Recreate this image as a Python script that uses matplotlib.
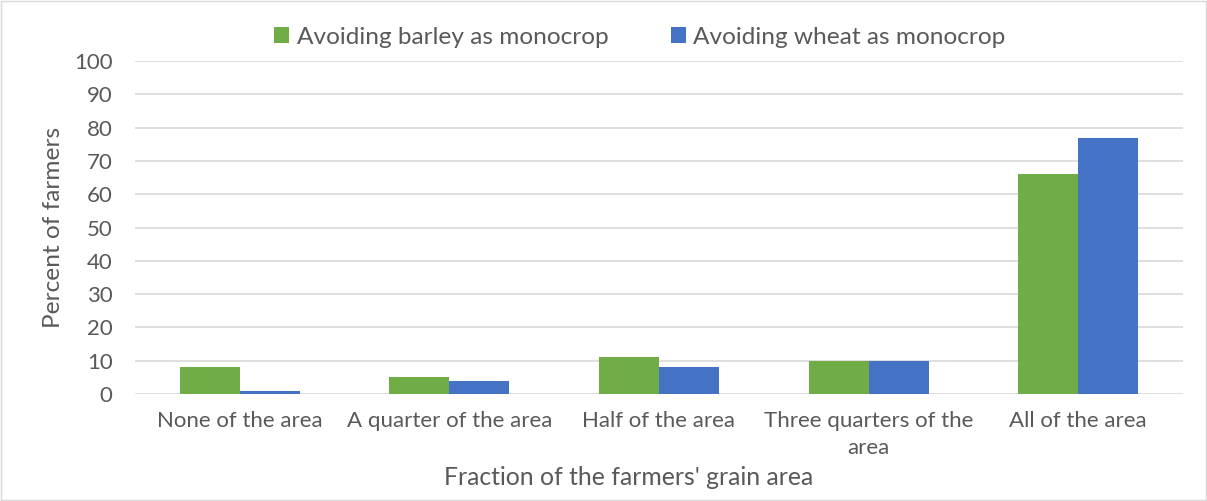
import matplotlib.pyplot as plt
import numpy as np

plt.rcParams['font.family'] = ['Lato', 'DejaVu Sans']

categories = ['None of the area', 'A quarter of the area', 'Half of the area',
              'Three quarters of the\narea', 'All of the area']
barley = [8, 5, 11, 10, 66]
wheat = [1, 4, 8, 10, 77]
yticks = list(range(0, 101, 10))

GREEN = '#70ad47'
BLUE = '#4472c4'
TXT = '#595959'

fig = plt.figure(figsize=(12.07, 5.01), dpi=100)
ax = fig.add_axes([0.1118, 0.2136, 0.8683, 0.6644])

x = np.arange(len(categories))
w = 0.286
ax.bar(x - w / 2, barley, width=w, color=GREEN, label='Avoiding barley as monocrop', zorder=3)
ax.bar(x + w / 2, wheat, width=w, color=BLUE, label='Avoiding wheat as monocrop', zorder=3)

ax.set_xlim(-0.5, len(categories) - 0.5)
ax.set_ylim(0, 100)
ax.set_yticks(yticks)
ax.set_yticklabels([str(v) for v in yticks], fontsize=16, color=TXT)
ax.set_xticks(x)
ax.set_xticklabels(categories, fontsize=16, color=TXT, linespacing=1.45)
ax.tick_params(axis='x', length=0, pad=12)
ax.tick_params(axis='y', length=0, pad=16)
ax.yaxis.grid(True, color='#d9d9d9', linewidth=1.2, zorder=0)
for s in ax.spines.values():
    s.set_visible(False)

ax.set_ylabel('Percent of farmers', fontsize=17.6, color=TXT, labelpad=7)
ax.set_xlabel("Fraction of the farmers' grain area", fontsize=17.8, color=TXT, labelpad=7)
ax.xaxis.set_label_coords(0.471, -0.215)

fig.legend(loc='upper center', bbox_to_anchor=(0.530, 0.99), ncol=2, frameon=False,
           fontsize=17.6, labelcolor=TXT, handlelength=0.62, handleheight=0.62,
           handletextpad=0.3, columnspacing=2.55)

fig.patches.append(plt.Rectangle((0.001, 0.001), 0.998, 0.997, transform=fig.transFigure,
                                 fill=False, edgecolor='#d9d9d9', linewidth=1))

plt.savefig('out.png', dpi=100)
